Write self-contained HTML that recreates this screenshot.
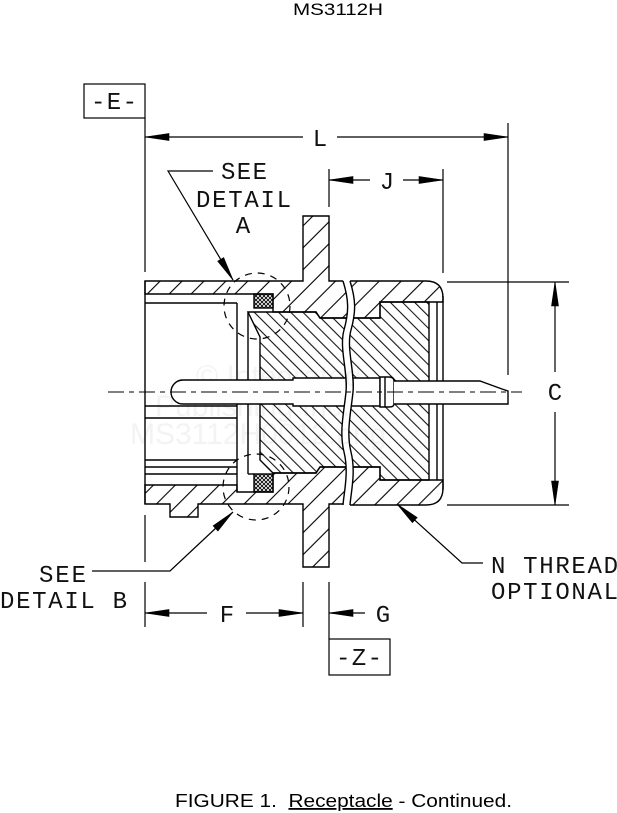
<!DOCTYPE html>
<html>
<head>
<meta charset="utf-8">
<style>
  html, body { margin:0; padding:0; background:#fff; }
  svg { display:block; }
  .m { font-family: "Liberation Mono", "DejaVu Sans Mono", monospace; font-size:24px; fill:#111; }
  .s { font-family: "Liberation Sans", Arial, sans-serif; fill:#000; }
</style>
</head>
<body>
<svg width="617" height="813" viewBox="0 0 617 813" xmlns="http://www.w3.org/2000/svg">
  <defs>
    <pattern id="hc" width="15.5" height="15.5" patternUnits="userSpaceOnUse" patternTransform="rotate(45)">
      <line x1="2" y1="0" x2="2" y2="15.5" stroke="#000" stroke-width="1.1"/>
    </pattern>
    <pattern id="hf" width="8.6" height="8.6" patternUnits="userSpaceOnUse" patternTransform="rotate(-45)">
      <line x1="2" y1="0" x2="2" y2="8.6" stroke="#000" stroke-width="1"/>
    </pattern>
    <pattern id="hx" width="4" height="4" patternUnits="userSpaceOnUse">
      <path d="M0,0 L4,4 M4,0 L0,4" stroke="#000" stroke-width="0.9"/>
    </pattern>
    <clipPath id="cf">
      <path d="M0,0 L343,0 L343,281 C349,300 349,312 344,330 C339,348 348,372 346,392 C344,412 339,432 344,452 C349,472 344,492 343,505 L343,813 L0,813 Z"/>
    </clipPath>
    <clipPath id="cr">
      <path d="M700,0 L350,0 L350,281 C356,300 356,312 351,330 C346,348 355,372 353,392 C351,412 346,432 351,452 C356,472 351,492 350,505 L350,813 L700,813 Z"/>
    </clipPath>
  </defs>

  <rect x="0" y="0" width="617" height="813" fill="#fff"/>

  <!-- watermark -->
  <g class="s" style="fill:#f3f3f3" font-size="30">
    <text x="196" y="386" style="fill:#f3f3f3">© Integrated</text>
    <text x="155" y="416" style="fill:#f3f3f3">Publishing Inc.</text>
    <text x="130" y="444" style="fill:#f3f3f3">MS3112H0012.png</text>
  </g>

  <!-- Title -->
  <text class="s" x="293" y="15" font-size="17" textLength="90" lengthAdjust="spacingAndGlyphs">MS3112H</text>

  <!-- FRONT GROUP -->
  <g clip-path="url(#cf)" stroke="#000" stroke-width="1.4" stroke-linejoin="miter">
    <path d="M145,281 L303,281 L303,216 L329,216 L329,281 L362,281 L362,318 L320,318 L316,312 L273,312 L273,294 L145,294 Z" fill="url(#hc)"/>
    <path d="M145,485 L237,485 L237,492 L273,492 L273,473 L316,473 L320,467 L362,467 L362,504 L329,504 L329,567 L303,567 L303,504 L198,504 L198,517 L170,517 L170,504 L145,504 Z" fill="url(#hc)"/>
    <path d="M248,312 L316,312 L320,318 L362,318 L362,467 L320,467 L316,473 L273,473 L260,460 L260,337 Z" fill="url(#hf)"/>
    <rect x="254" y="294" width="19" height="14" fill="url(#hx)"/>
    <rect x="254" y="474" width="19" height="18" fill="url(#hx)"/>
    <line x1="145" y1="303" x2="237" y2="303"/>
    <line x1="237" y1="303" x2="237" y2="492"/>
    <line x1="248" y1="312" x2="248" y2="474"/>
    <line x1="248" y1="474" x2="254" y2="474"/>
    <line x1="145" y1="406" x2="237" y2="406"/>
    <line x1="145" y1="418" x2="237" y2="418"/>
    <line x1="145" y1="460" x2="237" y2="460"/>
    <line x1="145" y1="467" x2="237" y2="467"/>
    <line x1="145" y1="474" x2="237" y2="474"/>
    <line x1="145" y1="281" x2="145" y2="504"/>
    <path d="M183,380 L293,380 L293,378 L362,378 L362,406 L293,406 L293,404 L183,404 A12,12 0 0 1 183,380 Z" fill="#fff"/>
  </g>

  <!-- REAR GROUP -->
  <g clip-path="url(#cr)" stroke="#000" stroke-width="1.4">
    <path d="M333,281 L426,281 Q443,281 443,298 L443,302 L380,302 L380,318 L333,318 Z" fill="url(#hc)"/>
    <path d="M333,467 L380,467 L380,480 L443,480 L443,488 Q443,505 426,505 L333,505 Z" fill="url(#hc)"/>
    <path d="M333,318 L380,318 L380,302 L429,302 L429,480 L380,480 L380,467 L333,467 Z" fill="url(#hf)"/>
    <line x1="437" y1="302" x2="437" y2="480"/>
    <line x1="443" y1="296" x2="443" y2="490"/>
    <path d="M333,378 L380,378 L380,406 L333,406 Z" fill="#fff"/>
    <path d="M380,377 L389,377 Q394,377 394,381 L394,404 Q394,407 389,407 L380,407 Z" fill="#fff"/>
    <line x1="385" y1="377" x2="385" y2="407"/>
    <path d="M394,381 L480,381 L502,389 L508,391 L508,404 L394,404" fill="#fff"/>
  </g>

  <!-- break waves -->
  <g fill="none" stroke="#000" stroke-width="1.4">
    <path d="M343,281 C349,300 349,312 344,330 C339,348 348,372 346,392 C344,412 339,432 344,452 C349,472 344,492 343,505"/>
    <path d="M350,281 C356,300 356,312 351,330 C346,348 355,372 353,392 C351,412 346,432 351,452 C356,472 351,492 350,505"/>
  </g>

  <!-- centerline -->
  <line x1="108" y1="392" x2="522" y2="392" stroke="#000" stroke-width="1.1" stroke-dasharray="16 5 5 5"/>

  <!-- detail circles -->
  <circle cx="257" cy="306" r="33" fill="none" stroke="#000" stroke-width="1.2" stroke-dasharray="7 6"/>
  <circle cx="256" cy="487" r="33" fill="none" stroke="#000" stroke-width="1.2" stroke-dasharray="7 6"/>

  <!-- DIMENSIONS -->
  <g stroke="#000" stroke-width="1.2" fill="none">
    <line x1="145" y1="118" x2="145" y2="272"/>
    <line x1="145" y1="515" x2="145" y2="562"/>
    <line x1="145" y1="582" x2="145" y2="627"/>
    <line x1="508" y1="123" x2="508" y2="375"/>
    <line x1="329" y1="169" x2="329" y2="207"/>
    <line x1="443" y1="169" x2="443" y2="273"/>
    <line x1="303" y1="582" x2="303" y2="627"/>
    <line x1="329" y1="582" x2="329" y2="639"/>
    <line x1="447" y1="282" x2="569" y2="282"/>
    <line x1="447" y1="505" x2="569" y2="505"/>
    <line x1="145" y1="137" x2="303" y2="137"/>
    <line x1="337" y1="137" x2="508" y2="137"/>
    <line x1="329" y1="180" x2="370" y2="180"/>
    <line x1="403" y1="180" x2="443" y2="180"/>
    <line x1="555" y1="282" x2="555" y2="372"/>
    <line x1="555" y1="412" x2="555" y2="505"/>
    <line x1="145" y1="613" x2="207" y2="613"/>
    <line x1="246" y1="613" x2="303" y2="613"/>
    <line x1="329" y1="613" x2="365" y2="613"/>
    <polyline points="213,171 168,171 233,280"/>
    <polyline points="92,571 170,571 233,512"/>
    <polyline points="483,563 462,563 397,504"/>
    <rect x="84" y="84" width="61" height="34"/>
    <rect x="329" y="639" width="61" height="36"/>
  </g>
  <g fill="#000" stroke="#000" stroke-width="0.6">
    <polygon points="145,137 169,133.5 169,140.5"/>
    <polygon points="508,137 484,133.5 484,140.5"/>
    <polygon points="329,180 353,176.5 353,183.5"/>
    <polygon points="443,180 419,176.5 419,183.5"/>
    <polygon points="555,282 551.5,306 558.5,306"/>
    <polygon points="555,505 551.5,481 558.5,481"/>
    <polygon points="145,613 169,609.5 169,616.5"/>
    <polygon points="303,613 279,609.5 279,616.5"/>
    <polygon points="329,613 353,609.5 353,616.5"/>
    <polygon points="233,280 223.7,257.6 217.7,261.2"/>
    <polygon points="233,512 217.9,531.0 213.1,525.8"/>
    <polygon points="397,504 417.2,517.5 412.4,522.7"/>
  </g>

  <!-- LABELS -->
  <text class="m" x="91" y="109" font-size="21" textLength="46">-E-</text>
  <text class="m" x="320" y="146" text-anchor="middle">L</text>
  <text class="m" x="387" y="189" text-anchor="middle">J</text>
  <text class="m" x="221" y="179" textLength="46">SEE</text>
  <text class="m" x="196" y="207" textLength="95">DETAIL</text>
  <text class="m" x="243" y="233" text-anchor="middle">A</text>
  <text class="m" x="555" y="400" text-anchor="middle">C</text>
  <text class="m" x="39" y="582" textLength="47">SEE</text>
  <text class="m" x="0" y="608" textLength="127">DETAIL B</text>
  <text class="m" x="227" y="622" text-anchor="middle">F</text>
  <text class="m" x="383" y="622" text-anchor="middle">G</text>
  <text class="m" x="336" y="665" font-size="21" textLength="46">-Z-</text>
  <text class="m" x="491" y="573" textLength="127">N THREAD</text>
  <text class="m" x="491" y="599" textLength="127">OPTIONAL</text>

  <text class="s" x="175" y="807" font-size="18" textLength="337" lengthAdjust="spacingAndGlyphs">FIGURE 1.&#160; <tspan text-decoration="underline">Receptacle</tspan> - Continued.</text>
</svg>
</body>
</html>
